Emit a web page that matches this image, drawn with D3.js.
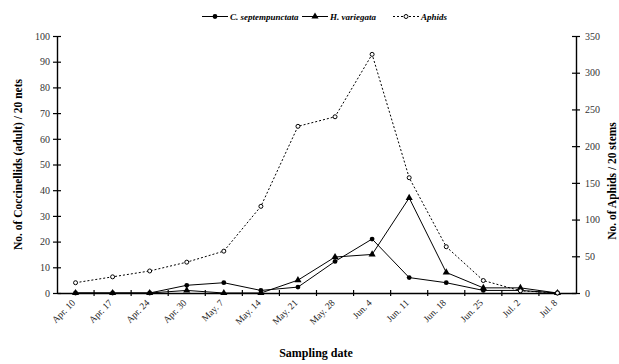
<!DOCTYPE html>
<html><head><meta charset="utf-8">
<script src="https://cdn.jsdelivr.net/npm/d3@7"></script>
<style>
body{margin:0;background:#fff;}
text{font-family:"Liberation Serif","Times New Roman",serif;}
</style></head>
<body><svg id="c" width="619" height="364"></svg>
<script>
const dates = ["Apr. 10","Apr. 17","Apr. 24","Apr. 30","May. 7","May. 14","May. 21","May. 28","Jun. 4","Jun. 11","Jun. 18","Jun. 25","Jul. 2","Jul. 8"];
const cSept = [0,0,0,3,4,1,2.3,12.3,21,6,4,1,1,0];
const hVar  = [0,0,0,1,0,0,5,14,15,37,8,2,2,0];
const aphids = [14,22,30,42,57,118,227,240,325,157,63,17,3,0];
const leftTicks = d3.range(0,101,10);
const rightTicks = d3.range(0,351,50);

const svg = d3.select("#c");
const L=57, R=576, T=36, B=293;
const x = d3.scaleBand().domain(dates).range([L,R]);
const yL = d3.scaleLinear().domain([0,100]).range([B,T]);
const yR = d3.scaleLinear().domain([0,350]).range([B,T]);
const cx = d => x(d)+x.bandwidth()/2;

// axes
const gL = svg.append("g").attr("transform",`translate(${L},0)`)
  .call(d3.axisLeft(yL).tickValues(leftTicks).tickSizeInner(4).tickSizeOuter(0).tickPadding(3));
gL.selectAll(".tick line").attr("x2",4).attr("x1",-4);
const gR = svg.append("g").attr("transform",`translate(${R},0)`)
  .call(d3.axisRight(yR).tickValues(rightTicks).tickSizeInner(4).tickSizeOuter(0).tickPadding(5));
gR.selectAll(".tick line").attr("x1",-4).attr("x2",4);
const gX = svg.append("g").attr("transform",`translate(0,${B})`)
  .call(d3.axisBottom(x).tickSize(0).tickFormat(""));
gX.selectAll("line.bt").data(dates.slice(1)).enter().append("line")
  .attr("x1",d=>x(d)).attr("x2",d=>x(d)).attr("y1",-3).attr("y2",3).attr("stroke","#000").attr("stroke-width",1.2);
gX.selectAll("text.xl").data(dates).enter().append("text")
  .attr("transform",d=>`translate(${cx(d)-2},${8}) rotate(-45)`)
  .attr("text-anchor","end").attr("dy","0.35em")
  .attr("font-size",9.5).attr("fill","#222").text(d=>d);
[gL,gR,gX].forEach(g=>{
  g.select(".domain").attr("stroke","#000").attr("stroke-width",1.4);
  g.selectAll(".tick line").attr("stroke","#000").attr("stroke-width",1.2);
  g.selectAll(".tick text").attr("font-size",10).attr("font-family","Liberation Serif").attr("fill","#333");
});

// lines
const lineL = d3.line().x((d,i)=>cx(dates[i])).y(d=>yL(d));
const lineR = d3.line().x((d,i)=>cx(dates[i])).y(d=>yR(d));
svg.append("path").attr("d",lineR(aphids)).attr("fill","none").attr("stroke","#000").attr("stroke-width",1).attr("stroke-dasharray","2,2");
svg.append("path").attr("d",lineL(cSept)).attr("fill","none").attr("stroke","#000").attr("stroke-width",1);
svg.append("path").attr("d",lineL(hVar)).attr("fill","none").attr("stroke","#000").attr("stroke-width",1);

const tri = d3.symbol().type(d3.symbolTriangle).size(22);
svg.selectAll("circle.c").data(cSept).enter().append("circle")
  .attr("cx",(d,i)=>cx(dates[i])).attr("cy",d=>yL(d)).attr("r",2.4).attr("fill","#000");
svg.selectAll("path.h").data(hVar).enter().append("path").attr("d",tri)
  .attr("transform",(d,i)=>`translate(${cx(dates[i])},${yL(d)})`).attr("fill","#000");
svg.selectAll("circle.a").data(aphids).enter().append("circle")
  .attr("cx",(d,i)=>cx(dates[i])).attr("cy",d=>yR(d)).attr("r",2).attr("fill","#fff").attr("stroke","#000").attr("stroke-width",1);

// titles
svg.append("text").attr("transform",`translate(18,${(T+B)/2}) rotate(-90)`).attr("text-anchor","middle")
  .attr("dy","0.35em").attr("font-size",11.5).attr("font-weight","bold").text("No. of Coccinellids (adult) / 20 nets");
svg.append("text").attr("transform",`translate(612,181) rotate(-90)`).attr("text-anchor","middle")
  .attr("dy","0.35em").attr("font-size",11.5).attr("font-weight","bold").text("No. of Aphids / 20 stems");
svg.append("text").attr("x",316).attr("y",357).attr("text-anchor","middle")
  .attr("font-size",12).attr("font-weight","bold").text("Sampling date");

// legend
const legend = [
  {name:"C. septempunctata", x0:202, type:"c"},
  {name:"H. variegata", x0:302, type:"h"},
  {name:"Aphids", x0:393, type:"a"}
];
const ly = 16.5;
const lg = svg.append("g");
legend.forEach(it=>{
  lg.append("line").attr("x1",it.x0).attr("x2",it.x0+26).attr("y1",ly).attr("y2",ly)
    .attr("stroke","#000").attr("stroke-width",1).attr("stroke-dasharray",it.type==="a"?"2,2":null);
  const mx = it.x0+13;
  if(it.type==="c") lg.append("circle").attr("cx",mx).attr("cy",ly).attr("r",2.4).attr("fill","#000");
  else if(it.type==="h") lg.append("path").attr("d",tri).attr("transform",`translate(${mx},${ly})`).attr("fill","#000");
  else lg.append("circle").attr("cx",mx).attr("cy",ly).attr("r",2).attr("fill","#fff").attr("stroke","#000");
  lg.append("text").attr("x",it.x0+28).attr("y",ly).attr("dy","0.35em").attr("font-size",9)
    .attr("font-weight","bold").attr("font-style","italic").text(it.name);
});
</script></body></html>
